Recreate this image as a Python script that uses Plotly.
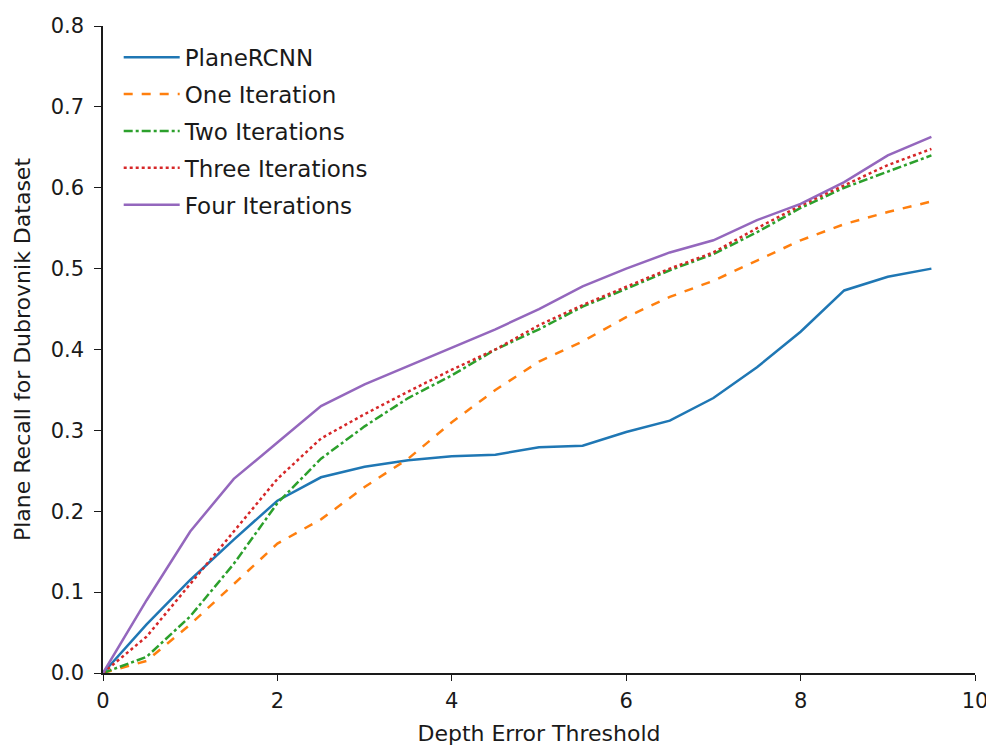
import plotly.graph_objects as go

thresholds = [0, 0.5, 1, 1.5, 2, 2.5, 3, 3.5, 4, 4.5, 5, 5.5, 6, 6.5, 7, 7.5, 8, 8.5, 9, 9.5]
planercnn = [0, 0.06, 0.115, 0.165, 0.213, 0.242, 0.255, 0.263, 0.268, 0.270, 0.279, 0.281, 0.298, 0.312, 0.340, 0.378, 0.422, 0.473, 0.490, 0.500]
one_iter = [0, 0.015, 0.06, 0.11, 0.16, 0.19, 0.23, 0.265, 0.31, 0.35, 0.385, 0.41, 0.44, 0.465, 0.485, 0.51, 0.535, 0.555, 0.57, 0.583]
two_iter = [0, 0.02, 0.07, 0.135, 0.21, 0.265, 0.305, 0.34, 0.368, 0.40, 0.425, 0.453, 0.475, 0.498, 0.518, 0.545, 0.575, 0.60, 0.62, 0.64]
three_iter = [0, 0.045, 0.11, 0.175, 0.24, 0.29, 0.32, 0.348, 0.375, 0.40, 0.43, 0.455, 0.477, 0.50, 0.52, 0.55, 0.578, 0.603, 0.628, 0.648]
four_iter = [0, 0.09, 0.175, 0.24, 0.285, 0.33, 0.357, 0.38, 0.403, 0.425, 0.45, 0.478, 0.50, 0.52, 0.535, 0.56, 0.58, 0.607, 0.64, 0.663]

series = [
    ("PlaneRCNN", planercnn, "#1f77b4", "solid"),
    ("One Iteration", one_iter, "#ff7f0e", "dash"),
    ("Two Iterations", two_iter, "#2ca02c", "dashdot"),
    ("Three Iterations", three_iter, "#d62728", "dot"),
    ("Four Iterations", four_iter, "#9467bd", "solid"),
]

fig = go.Figure()
for i, (name, ys, color, dash) in enumerate(series):
    fig.add_trace(go.Scatter(x=thresholds, y=ys, mode="lines", name=name, legendgroup=f"g{i}",
                             line=dict(color=color, width=2.5, dash=dash)))

txt = "#1a1a1a"
fig.update_layout(
    width=986, height=743,
    margin=dict(l=95, r=19, t=18, b=78),
    paper_bgcolor="white", plot_bgcolor="white",
    font=dict(family="DejaVu Sans", size=21, color=txt),
    legend=dict(x=0.018, y=0.985, xanchor="left", yanchor="top", tracegroupgap=4, itemwidth=56,
                bgcolor="rgba(0,0,0,0)", font=dict(family="DejaVu Sans", size=23, color=txt)),
    xaxis=dict(range=[0, 10], tickvals=[0, 2, 4, 6, 8, 10], showgrid=False, zeroline=False,
               automargin=False, showline=True, linecolor=txt, linewidth=1.5, ticks="outside",
               ticklen=6, tickcolor=txt, tickfont=dict(size=21), ticklabelstandoff=2,
               title=dict(text="Depth Error Threshold", standoff=14, font=dict(size=22))),
    yaxis=dict(range=[0, 0.8], tickvals=[0, 0.1, 0.2, 0.3, 0.4, 0.5, 0.6, 0.7, 0.8], tickformat=".1f",
               showgrid=False, zeroline=False, automargin=False, showline=True, linecolor=txt,
               linewidth=1.5, ticks="outside", ticklen=7, tickcolor=txt, tickfont=dict(size=21),
               ticklabelstandoff=6,
               title=dict(text="Plane Recall for Dubrovnik Dataset", standoff=14, font=dict(size=22))),
)
fig.write_html("out.html")
